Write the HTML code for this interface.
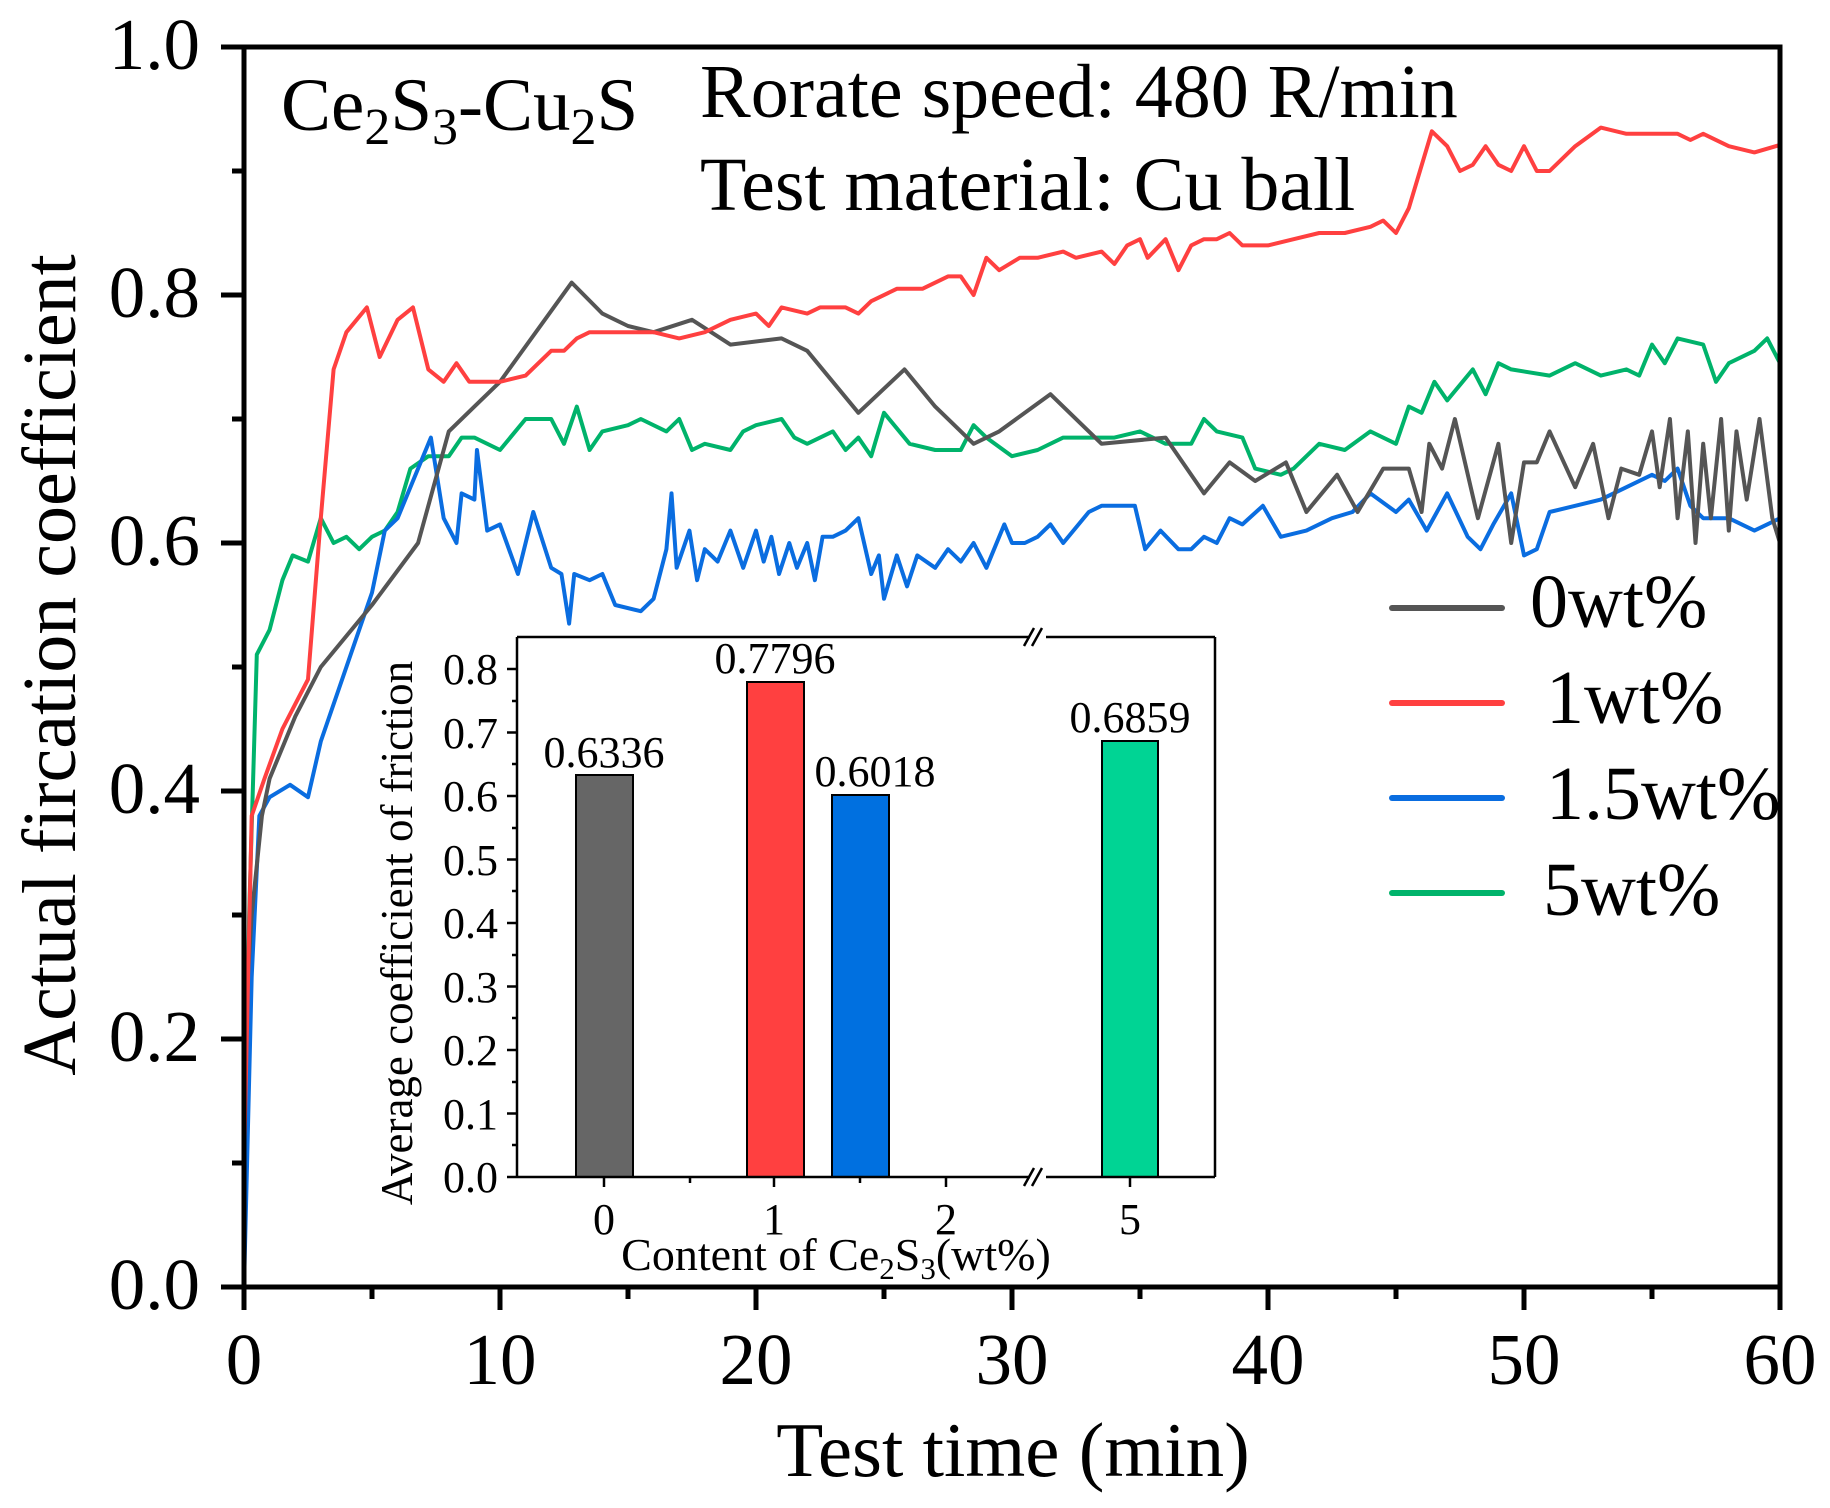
<!DOCTYPE html>
<html><head><meta charset="utf-8"><style>
html,body{margin:0;padding:0;background:#fff;}
svg{display:block;font-family:"Liberation Serif",serif;}
</style></head><body>
<svg width="1830" height="1508" viewBox="0 0 1830 1508" xmlns="http://www.w3.org/2000/svg">
<rect width="1830" height="1508" fill="#fff"/>
<g transform="translate(244,1287) scale(25.6,-1240)" fill="none" stroke-width="4" stroke-linejoin="round">
<polyline vector-effect="non-scaling-stroke" stroke="#00b36b" points="0,0 0.2,0.3 0.5,0.51 1,0.53 1.5,0.57 1.9,0.59 2.5,0.585 3,0.62 3.5,0.6 4,0.605 4.5,0.595 5,0.605 5.5,0.61 6,0.625 6.5,0.66 7.2,0.67 8,0.67 8.5,0.685 9,0.685 10,0.675 11,0.7 12,0.7 12.5,0.68 13,0.71 13.5,0.675 14,0.69 15,0.695 15.5,0.7 16.5,0.69 17,0.7 17.5,0.675 18,0.68 19,0.675 19.5,0.69 20,0.695 21,0.7 21.5,0.685 22,0.68 23,0.69 23.5,0.675 24,0.685 24.5,0.67 25,0.705 26,0.68 27,0.675 28,0.675 28.5,0.695 29,0.685 30,0.67 31,0.675 32,0.685 34,0.685 35,0.69 36,0.68 37,0.68 37.5,0.7 38,0.69 39,0.685 39.5,0.66 40.5,0.655 41,0.66 42,0.68 43,0.675 44,0.69 45,0.68 45.5,0.71 46,0.705 46.5,0.73 47,0.715 48,0.74 48.5,0.72 49,0.745 49.5,0.74 51,0.735 52,0.745 53,0.735 54,0.74 54.5,0.735 55,0.76 55.5,0.745 56,0.765 57,0.76 57.5,0.73 58,0.745 59,0.755 59.5,0.765 60,0.745"/>
<polyline vector-effect="non-scaling-stroke" stroke="#0a6de0" points="0,0 0.3,0.25 0.6,0.38 1,0.395 1.8,0.405 2.5,0.395 3,0.44 4,0.5 5,0.56 5.5,0.61 6,0.62 7.3,0.685 7.8,0.62 8.3,0.6 8.5,0.64 9,0.635 9.1,0.675 9.5,0.61 10,0.615 10.7,0.575 11.3,0.625 12,0.58 12.4,0.575 12.7,0.535 12.9,0.575 13.5,0.57 14,0.575 14.5,0.55 15.5,0.545 16,0.555 16.5,0.595 16.7,0.64 16.9,0.58 17.4,0.61 17.7,0.57 18,0.595 18.5,0.585 19,0.61 19.5,0.58 20,0.61 20.3,0.585 20.6,0.605 20.9,0.575 21.3,0.6 21.6,0.58 22,0.6 22.3,0.57 22.6,0.605 23,0.605 23.5,0.61 24,0.62 24.5,0.575 24.8,0.59 25,0.555 25.5,0.59 25.9,0.565 26.3,0.59 27,0.58 27.5,0.595 28,0.585 28.5,0.6 29,0.58 29.7,0.615 30,0.6 30.5,0.6 31,0.605 31.5,0.615 32,0.6 33,0.625 33.5,0.63 34,0.63 34.8,0.63 35.2,0.595 35.8,0.61 36.5,0.595 37,0.595 37.5,0.605 38,0.6 38.5,0.62 39,0.615 39.8,0.63 40.5,0.605 41.5,0.61 42.5,0.62 43.3,0.625 44,0.64 45,0.625 45.5,0.635 46.2,0.61 47,0.64 47.8,0.605 48.3,0.595 48.8,0.615 49.5,0.64 50,0.59 50.5,0.595 51,0.625 52,0.63 53,0.635 54,0.645 55,0.655 55.5,0.65 56,0.66 56.5,0.63 57,0.62 58,0.62 59,0.61 59.5,0.615 60,0.62"/>
<polyline vector-effect="non-scaling-stroke" stroke="#555" points="0,0.2 0.3,0.3 0.7,0.38 1,0.41 2,0.46 3,0.5 5,0.55 6.8,0.6 8,0.69 9,0.71 10,0.73 12.8,0.81 14,0.785 15,0.775 16,0.77 17.5,0.78 19,0.76 21,0.765 22,0.755 24,0.705 25.8,0.74 27,0.71 28.5,0.68 29.5,0.69 31.5,0.72 33.5,0.68 36,0.685 37.5,0.64 38.5,0.665 39.5,0.65 40.7,0.665 41.5,0.625 42.7,0.655 43.5,0.625 44.5,0.66 45.5,0.66 46,0.625 46.3,0.68 46.8,0.66 47.3,0.7 48.2,0.62 49,0.68 49.5,0.6 50,0.665 50.5,0.665 51,0.69 52,0.645 52.7,0.68 53.3,0.62 53.8,0.66 54.5,0.655 55,0.69 55.3,0.645 55.7,0.7 56,0.62 56.4,0.69 56.7,0.6 57,0.68 57.3,0.62 57.7,0.7 58,0.61 58.3,0.69 58.7,0.635 59.2,0.7 59.7,0.62 60,0.6 60,0.665"/>
<polyline vector-effect="non-scaling-stroke" stroke="#ff4040" points="0,0.1 0.3,0.38 0.8,0.41 1.5,0.45 2,0.47 2.5,0.49 3,0.62 3.5,0.74 4,0.77 4.8,0.79 5.3,0.75 6,0.78 6.6,0.79 7.2,0.74 7.8,0.73 8.3,0.745 8.8,0.73 10,0.73 11,0.735 12,0.755 12.5,0.755 13,0.765 13.5,0.77 15,0.77 16,0.77 17,0.765 18,0.77 19,0.78 20,0.785 20.5,0.775 21,0.79 22,0.785 22.5,0.79 23.5,0.79 24,0.785 24.5,0.795 25.5,0.805 26.5,0.805 27.5,0.815 28,0.815 28.5,0.8 29,0.83 29.5,0.82 30.3,0.83 31,0.83 32,0.835 32.5,0.83 33.5,0.835 34,0.825 34.5,0.84 35,0.845 35.3,0.83 36,0.845 36.5,0.82 37,0.84 37.5,0.845 38,0.845 38.5,0.85 39,0.84 40,0.84 41,0.845 42,0.85 43,0.85 44,0.855 44.5,0.86 45,0.85 45.5,0.87 46.4,0.932 47,0.92 47.5,0.9 48,0.905 48.5,0.92 49,0.905 49.5,0.9 50,0.92 50.5,0.9 51,0.9 52,0.92 53,0.935 54,0.93 55,0.93 56,0.93 56.5,0.925 57,0.93 58,0.92 59,0.915 60,0.921"/>
</g>
<g stroke="#000" fill="none">
<rect x="244" y="47" width="1536" height="1240" stroke-width="5"/>
<g stroke-width="5">
<line x1="244" y1="1287" x2="244" y2="1310"/><line x1="500" y1="1287" x2="500" y2="1310"/><line x1="756" y1="1287" x2="756" y2="1310"/><line x1="1012" y1="1287" x2="1012" y2="1310"/><line x1="1268" y1="1287" x2="1268" y2="1310"/><line x1="1524" y1="1287" x2="1524" y2="1310"/><line x1="1780" y1="1287" x2="1780" y2="1310"/>
<line x1="372" y1="1287" x2="372" y2="1299"/><line x1="628" y1="1287" x2="628" y2="1299"/><line x1="884" y1="1287" x2="884" y2="1299"/><line x1="1140" y1="1287" x2="1140" y2="1299"/><line x1="1396" y1="1287" x2="1396" y2="1299"/><line x1="1652" y1="1287" x2="1652" y2="1299"/>
<line x1="221" y1="47" x2="244" y2="47"/><line x1="221" y1="295" x2="244" y2="295"/><line x1="221" y1="543" x2="244" y2="543"/><line x1="221" y1="791" x2="244" y2="791"/><line x1="221" y1="1039" x2="244" y2="1039"/><line x1="221" y1="1287" x2="244" y2="1287"/>
<line x1="232" y1="171" x2="244" y2="171"/><line x1="232" y1="419" x2="244" y2="419"/><line x1="232" y1="667" x2="244" y2="667"/><line x1="232" y1="915" x2="244" y2="915"/><line x1="232" y1="1163" x2="244" y2="1163"/>
</g></g>
<g font-size="73" text-anchor="end">
<text x="200" y="69">1.0</text><text x="200" y="317">0.8</text><text x="200" y="565">0.6</text><text x="200" y="813">0.4</text><text x="200" y="1061">0.2</text><text x="200" y="1309">0.0</text>
</g>
<g font-size="73" text-anchor="middle">
<text x="244" y="1384">0</text><text x="500" y="1384">10</text><text x="756" y="1384">20</text><text x="1012" y="1384">30</text><text x="1268" y="1384">40</text><text x="1524" y="1384">50</text><text x="1780" y="1384">60</text>
<text x="1013" y="1476" font-size="77">Test time (min)</text>
<text transform="translate(75,665) rotate(-90)" font-size="76">Actual fircation coefficient</text>
</g>
<text x="281" y="130" font-size="75">Ce<tspan font-size="52" dy="14">2</tspan><tspan dy="-14">S</tspan><tspan font-size="52" dy="14">3</tspan><tspan dy="-14">-Cu</tspan><tspan font-size="52" dy="14">2</tspan><tspan dy="-14">S</tspan></text>
<text x="700" y="117" font-size="76">Rorate speed: 480 R/min</text>
<text x="700" y="210" font-size="76">Test material: Cu ball</text>
<g stroke-width="6" stroke-linecap="round">
<line x1="1392" y1="608" x2="1502" y2="608" stroke="#555"/>
<line x1="1392" y1="703" x2="1502" y2="703" stroke="#ff4040"/>
<line x1="1392" y1="798" x2="1502" y2="798" stroke="#0a6de0"/>
<line x1="1392" y1="893" x2="1502" y2="893" stroke="#00b36b"/>
</g>
<g font-size="76">
<text x="1530" y="627">0wt%</text><text x="1546" y="723">1wt%</text><text x="1546" y="819">1.5wt%</text><text x="1543" y="915">5wt%</text>
</g>
<rect x="517" y="637" width="698" height="540" fill="#fff"/>
<g stroke="#000" stroke-width="2">
<rect x="576" y="775" width="57" height="402" fill="#666"/>
<rect x="747" y="682" width="57" height="495" fill="#ff4040"/>
<rect x="832" y="795" width="57" height="382" fill="#0070e0"/>
<rect x="1102" y="741" width="56" height="436" fill="#00d494"/>
</g>
<g stroke="#000" stroke-width="2.5" fill="none">
<line x1="517" y1="637" x2="517" y2="1177"/>
<line x1="1215" y1="637" x2="1215" y2="1177"/>
<line x1="517" y1="637" x2="1030" y2="637"/><line x1="1046" y1="637" x2="1215" y2="637"/>
<line x1="517" y1="1177" x2="1030" y2="1177"/><line x1="1046" y1="1177" x2="1215" y2="1177"/>
<line x1="1024" y1="1186" x2="1034" y2="1168"/><line x1="1032" y1="1186" x2="1042" y2="1168"/>
<line x1="1024" y1="646" x2="1034" y2="628"/><line x1="1032" y1="646" x2="1042" y2="628"/>
<line x1="507" y1="1177" x2="517" y2="1177"/><line x1="507" y1="1113.5" x2="517" y2="1113.5"/><line x1="507" y1="1050" x2="517" y2="1050"/><line x1="507" y1="986.5" x2="517" y2="986.5"/><line x1="507" y1="923" x2="517" y2="923"/><line x1="507" y1="859.5" x2="517" y2="859.5"/><line x1="507" y1="796" x2="517" y2="796"/><line x1="507" y1="732.5" x2="517" y2="732.5"/><line x1="507" y1="669" x2="517" y2="669"/>
<line x1="512" y1="1145" x2="517" y2="1145"/><line x1="512" y1="1082" x2="517" y2="1082"/><line x1="512" y1="1018" x2="517" y2="1018"/><line x1="512" y1="955" x2="517" y2="955"/><line x1="512" y1="891" x2="517" y2="891"/><line x1="512" y1="828" x2="517" y2="828"/><line x1="512" y1="764" x2="517" y2="764"/><line x1="512" y1="701" x2="517" y2="701"/>
<line x1="604" y1="1177" x2="604" y2="1187"/><line x1="690" y1="1177" x2="690" y2="1183"/><line x1="774" y1="1177" x2="774" y2="1187"/><line x1="860" y1="1177" x2="860" y2="1183"/><line x1="946" y1="1177" x2="946" y2="1187"/><line x1="1130" y1="1177" x2="1130" y2="1187"/>
</g>
<g font-size="44" text-anchor="end">
<text x="498" y="1192">0.0</text><text x="498" y="1129">0.1</text><text x="498" y="1065">0.2</text><text x="498" y="1002">0.3</text><text x="498" y="938">0.4</text><text x="498" y="875">0.5</text><text x="498" y="811">0.6</text><text x="498" y="748">0.7</text><text x="498" y="684">0.8</text>
</g>
<g font-size="44" text-anchor="middle">
<text x="604" y="1234">0</text><text x="774" y="1234">1</text><text x="946" y="1234">2</text><text x="1130" y="1234">5</text>
<text x="604" y="767">0.6336</text><text x="775" y="673">0.7796</text><text x="875" y="786">0.6018</text><text x="1130" y="732">0.6859</text>
<text x="836" y="1270" font-size="46">Content of Ce<tspan font-size="31" dy="9">2</tspan><tspan dy="-9">S</tspan><tspan font-size="31" dy="9">3</tspan><tspan dy="-9">(wt%)</tspan></text>
<text transform="translate(412,933) rotate(-90)" font-size="45">Average coefficient of friction</text>
</g>
</svg>
</body></html>
